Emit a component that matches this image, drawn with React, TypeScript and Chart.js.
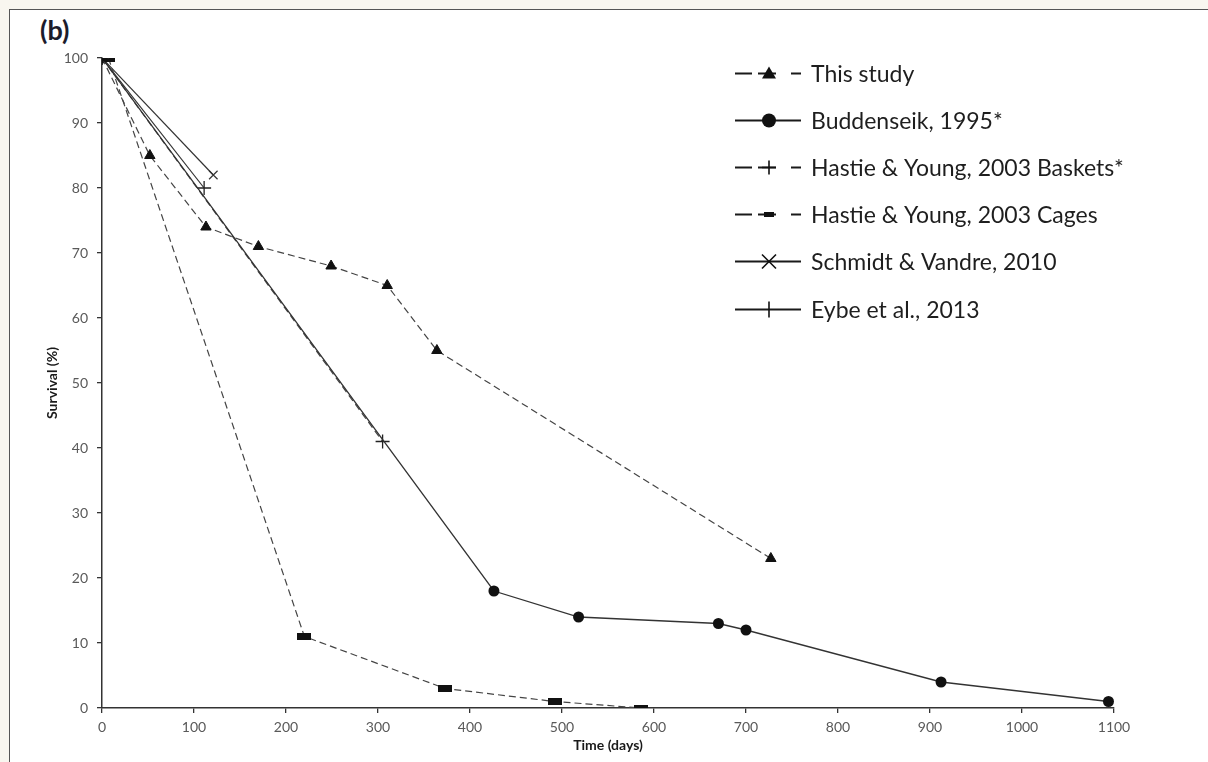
import React, { useEffect, useRef } from "react";
import { Chart, registerables } from "chart.js";

Chart.register(...registerables);

// ---- data ----
const seriesLabels = [
  "This study",
  "Buddenseik, 1995*",
  "Hastie & Young, 2003 Baskets*",
  "Hastie & Young, 2003 Cages",
  "Schmidt & Vandre, 2010",
  "Eybe et al., 2013",
];

const thisStudyDays = [0, 52, 113, 170, 249, 310, 364, 727];
const thisStudySurvival = [100, 85, 74, 71, 68, 65, 55, 23];

const buddenseikDays = [0, 426, 518, 670, 700, 912, 1094];
const buddenseikSurvival = [100, 18, 14, 13, 12, 4, 1];

const basketsDays = [0, 305];
const basketsSurvival = [100, 41];

const cagesDays = [7, 220, 373, 492, 586];
const cagesSurvival = [100, 11, 3, 1, 0];

const schmidtDays = [0, 121];
const schmidtSurvival = [100, 82];

const eybeDays = [0, 111];
const eybeSurvival = [100, 80];

const xMin = 0;
const xMax = 1100;
const xStep = 100;
const yMin = 0;
const yMax = 100;
const yStep = 10;

const xTitle = "Time (days)";
const yTitle = "Survival (%)";
const panelLabel = "(b)";

const toPoints = (xs: number[], ys: number[]) => xs.map((x, i) => ({ x, y: ys[i] }));

function makeRectMarker(w: number, h: number) {
  const c = document.createElement("canvas");
  c.width = w;
  c.height = h;
  const g = c.getContext("2d")!;
  g.fillStyle = "#111";
  g.fillRect(0, 0, w, h);
  return c;
}

const FONT = "Lato, 'Open Sans', 'DejaVu Sans', sans-serif";

const legendPlugin = {
  id: "customLegend",
  afterDraw(chart: any) {
    const ctx = chart.ctx as CanvasRenderingContext2D;
    const x0 = 735;
    const x1 = 801;
    const mx = 769;
    const tx = 811;
    const y0 = 73;
    const dy = 47.1;
    ctx.save();
    chart.data.datasets.forEach((ds: any, i: number) => {
      const y = Math.round(y0 + i * dy) + 0.5;
      ctx.strokeStyle = "#1a1a1a";
      ctx.lineWidth = 2;
      ctx.setLineDash([]);
      ctx.beginPath();
      if (ds.borderDash && ds.borderDash.length) {
        ctx.moveTo(x0, y);
        ctx.lineTo(x0 + 17, y);
        ctx.moveTo(mx - 11, y);
        ctx.lineTo(mx + 7, y);
        ctx.moveTo(x1 - 10, y);
        ctx.lineTo(x1, y);
      } else {
        ctx.moveTo(x0, y);
        ctx.lineTo(x1, y);
      }
      ctx.stroke();
      // marker
      ctx.fillStyle = "#111";
      ctx.strokeStyle = "#111";
      ctx.lineWidth = 1.6;
      const kind = ds.legendMarker;
      ctx.beginPath();
      if (kind === "triangle") {
        ctx.moveTo(mx, y - 7);
        ctx.lineTo(mx + 7, y + 5);
        ctx.lineTo(mx - 7, y + 5);
        ctx.closePath();
        ctx.fill();
      } else if (kind === "circle") {
        ctx.arc(mx, y, 7, 0, Math.PI * 2);
        ctx.fill();
      } else if (kind === "plus") {
        ctx.moveTo(mx, y - 7);
        ctx.lineTo(mx, y + 7);
        ctx.moveTo(mx - 7, y);
        ctx.lineTo(mx + 7, y);
        ctx.stroke();
      } else if (kind === "rect") {
        ctx.fillRect(mx - 5, y - 2.5, 10, 5);
      } else if (kind === "x") {
        ctx.moveTo(mx - 7, y - 7);
        ctx.lineTo(mx + 7, y + 7);
        ctx.moveTo(mx + 7, y - 7);
        ctx.lineTo(mx - 7, y + 7);
        ctx.stroke();
      } else if (kind === "tick") {
        ctx.moveTo(mx, y - 8);
        ctx.lineTo(mx, y + 8);
        ctx.stroke();
      }
      ctx.fillStyle = "#1e1e1e";
      ctx.font = `23px ${FONT}`;
      ctx.textAlign = "left";
      ctx.textBaseline = "middle";
      ctx.fillText(seriesLabels[i], tx, y + 1);
    });
    ctx.restore();
  },
};

export default function App() {
  const ref = useRef<HTMLCanvasElement | null>(null);

  useEffect(() => {
    if (!ref.current) return;
    const rectMarker = makeRectMarker(14, 7);
    const dash = [7, 4];
    const lineGray = "#444";
    const chart = new Chart(ref.current, {
      type: "line",
      data: {
        datasets: [
          {
            label: seriesLabels[0],
            data: toPoints(thisStudyDays, thisStudySurvival),
            borderColor: lineGray,
            borderWidth: 1.2,
            borderDash: dash,
            pointStyle: "triangle",
            pointRadius: 6,
            pointBackgroundColor: "#111",
            pointBorderColor: "#111",
            pointBorderWidth: 1,
            legendMarker: "triangle",
          } as any,
          {
            label: seriesLabels[1],
            data: toPoints(buddenseikDays, buddenseikSurvival),
            borderColor: "#333",
            borderWidth: 1.3,
            pointStyle: "circle",
            pointRadius: 5.5,
            pointBackgroundColor: "#111",
            pointBorderColor: "#111",
            pointBorderWidth: 0,
            legendMarker: "circle",
          } as any,
          {
            label: seriesLabels[2],
            data: toPoints(basketsDays, basketsSurvival),
            borderColor: lineGray,
            borderWidth: 1.2,
            borderDash: dash,
            pointStyle: "cross",
            pointRadius: 7,
            pointBorderColor: "#222",
            pointBorderWidth: 1.3,
            legendMarker: "plus",
          } as any,
          {
            label: seriesLabels[3],
            data: toPoints(cagesDays, cagesSurvival),
            borderColor: lineGray,
            borderWidth: 1.2,
            borderDash: dash,
            pointStyle: rectMarker,
            pointRadius: 7,
            legendMarker: "rect",
          } as any,
          {
            label: seriesLabels[4],
            data: toPoints(schmidtDays, schmidtSurvival),
            borderColor: "#333",
            borderWidth: 1.2,
            pointStyle: "crossRot",
            pointRadius: 6,
            pointBorderColor: "#333",
            pointBorderWidth: 1.2,
            legendMarker: "x",
          } as any,
          {
            label: seriesLabels[5],
            data: toPoints(eybeDays, eybeSurvival),
            borderColor: "#333",
            borderWidth: 1.2,
            pointStyle: "cross",
            pointRadius: 7,
            pointBorderColor: "#222",
            pointBorderWidth: 1.3,
            legendMarker: "tick",
          } as any,
        ],
      },
      options: {
        animation: false,
        responsive: false,
        maintainAspectRatio: false,
        layout: { padding: { top: 58, right: 94, left: 0, bottom: 0 } },
        plugins: {
          legend: { display: false },
          tooltip: { enabled: false },
        },
        elements: { line: { tension: 0 } },
        scales: {
          x: {
            type: "linear",
            min: xMin,
            max: xMax,
            afterFit: (s: any) => {
              s.height = 54;
            },
            ticks: {
              stepSize: xStep,
              color: "#595959",
              font: { family: FONT, size: 14 },
              padding: 6,
              maxRotation: 0,
              callback: (v: any) => String(v),
            },
            grid: {
              drawOnChartArea: false,
              drawTicks: true,
              tickLength: 5,
              color: "#333",
              lineWidth: 1.3,
            },
            border: { display: true, color: "#333", width: 1.5 },
            title: {
              display: true,
              text: xTitle,
              color: "#1a1a1a",
              font: { family: FONT, size: 14, weight: "bold" },
              padding: { top: 0, bottom: 8 },
            },
          },
          y: {
            type: "linear",
            min: yMin,
            max: yMax,
            afterFit: (s: any) => {
              s.width = 102;
            },
            ticks: {
              stepSize: yStep,
              color: "#595959",
              font: { family: FONT, size: 14 },
              padding: 9,
              callback: (v: any) => String(v),
            },
            grid: {
              drawOnChartArea: false,
              drawTicks: true,
              tickLength: 5,
              color: "#333",
              lineWidth: 1.3,
            },
            border: { display: true, color: "#333", width: 1.5 },
            title: {
              display: true,
              text: yTitle,
              color: "#1a1a1a",
              font: { family: FONT, size: 14, weight: "bold" },
              padding: { top: 44, bottom: 0 },
            },
          },
        },
      },
      plugins: [legendPlugin],
    } as any);
    return () => chart.destroy();
  }, []);

  return (
    <div
      style={{
        position: "fixed",
        left: 0,
        top: 0,
        width: 1208,
        height: 762,
        background: "#f8f6ef",
        overflow: "hidden",
      }}
    >
      <div
        style={{
          position: "absolute",
          left: 9,
          top: 9,
          width: 1400,
          height: 1000,
          background: "#fff",
          borderLeft: "1.5px solid #555",
          borderTop: "1.5px solid #555",
        }}
      />
      <div
        style={{
          position: "absolute",
          left: 40,
          top: 14,
          fontFamily: FONT,
          fontWeight: "bold",
          fontSize: 27,
          color: "#1c1c2c",
          lineHeight: "32px",
        }}
      >
        {panelLabel}
      </div>
      <canvas
        ref={ref}
        width={1208}
        height={762}
        style={{ position: "absolute", left: 0, top: 0, width: 1208, height: 762 }}
      />
    </div>
  );
}
